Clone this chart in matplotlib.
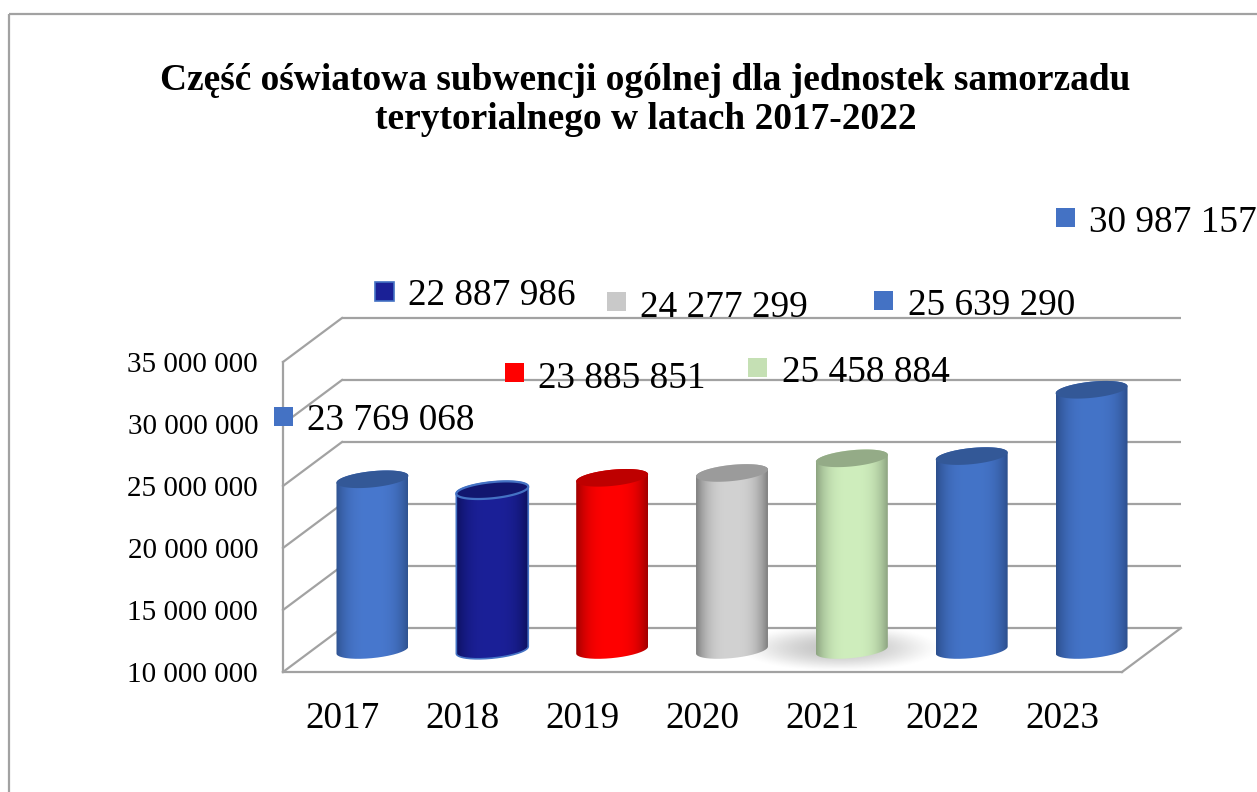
import numpy as np
import matplotlib
matplotlib.use('Agg')
import matplotlib.pyplot as plt
from matplotlib.colors import to_rgb
from matplotlib.patches import PathPatch, Rectangle
from matplotlib.path import Path
from matplotlib.transforms import Affine2D, IdentityTransform

plt.rcParams['font.family'] = ['Liberation Serif', 'DejaVu Serif']

title_lines = ['Część oświatowa subwencji ogólnej dla jednostek samorzadu',
               'terytorialnego w latach 2017-2022']
years = ['2017', '2018', '2019', '2020', '2021', '2022', '2023']
values = [23769068, 22887986, 23885851, 24277299, 25458884, 25639290, 30987157]
y_ticks = [10000000, 15000000, 20000000, 25000000, 30000000, 35000000]

# center / edge / top colours of the cylinders
center_cols = ['#4878CE', '#1B2098', '#FF0000', '#D2D2D2', '#CFEEBD', '#4474C8', '#4474C8']
edge_cols = ['#2F5290', '#0D1160', '#A00000', '#7E7E7E', '#8CA380', '#2C4E8C', '#2C4E8C']
top_cols = ['#335897', '#11166F', '#BE0000', '#9B9B9B', '#94AB87', '#335897', '#335897']
key_cols = ['#4472C4', '#1A2096', '#FF0000', '#C9C9C9', '#C5E0B4', '#4472C4', '#4472C4']

# manually dragged data labels, pixels: key x, key y, text x, baseline y
label_pos = [(283, 416, 307, 430), (384, 291, 408, 305), (514, 372, 538, 388),
             (616, 301, 640, 317), (757, 367, 782, 382), (883, 300, 908, 315),
             (1065, 217, 1089, 232)]

W, H = 1257, 792
GRID = '#A2A2A2'
DEPTH = (59, 44)
PX_PER_UNIT = 310 / 25000000

fig = plt.figure(figsize=(W / 100, H / 100), dpi=100)
page = Affine2D().scale(1, -1).translate(0, H)

# front plane of the 3d box
ax = fig.add_axes([283 / W, (H - 672) / H, 839 / W, 310 / H])
ax.patch.set_visible(False)
ax.set_xlim(-0.5, 6.5)
ax.set_ylim(10000000, 35000000)
mid = ax.transData + Affine2D().translate(DEPTH[0] / 2, DEPTH[1] / 2)
back = ax.transData + Affine2D().translate(*DEPTH)

fig.add_artist(Rectangle((9, 14), W, H, transform=page, fill=False, ec=GRID, lw=1.6))

for s in ['top', 'right']:
    ax.spines[s].set_visible(False)
for s in ['left', 'bottom']:
    ax.spines[s].set_color(GRID)
    ax.spines[s].set_linewidth(1.6)

ax.set_xticks(range(len(years)), years, fontsize=26.7)
ax.set_yticks(y_ticks, [f'{v:,}'.replace(',', ' ') for v in y_ticks], fontsize=21)
ax.tick_params(axis='x', length=0, pad=21.5)
ax.tick_params(axis='y', length=0, pad=18)

# back wall, side wall and floor
ax.hlines(y_ticks, -0.5, 6.5, transform=back, color=GRID, lw=1.6, clip_on=False, zorder=1)
for v in y_ticks:
    p = ax.transData.transform((-0.5, v))
    ax.plot([p[0], p[0] + DEPTH[0]], [p[1], p[1] + DEPTH[1]], transform=IdentityTransform(),
            color=GRID, lw=1.6, clip_on=False, zorder=1)
p = ax.transData.transform((6.5, y_ticks[0]))
ax.plot([p[0], p[0] + DEPTH[0]], [p[1], p[1] + DEPTH[1]], transform=IdentityTransform(),
        color=GRID, lw=1.6, clip_on=False, zorder=1)

# soft shadow on the floor below the 2021 cylinder
yy, xx = np.mgrid[-1:1:80j, -1:1:240j]
shadow = np.zeros((80, 240, 4))
shadow[..., :3] = 0.62
shadow[..., 3] = np.clip(1 - (xx ** 2 + yy ** 2), 0, 1) ** 1.5 * 0.6
im = ax.imshow(shadow, extent=(3.15, 4.85, 10000000 - 24 / PX_PER_UNIT, 10000000 + 24 / PX_PER_UNIT),
               aspect='auto', transform=ax.transData + Affine2D().translate(DEPTH[0] / 2 - 12, DEPTH[1] / 2 + 2),
               origin='lower', zorder=1.5, interpolation='bilinear')
im.set_clip_box(fig.bbox)

# cylinders
A = 0.3
B = 8.1 / PX_PER_UNIT
S = 3.5 / PX_PER_UNIT
for i, v in enumerate(values):
    base = y_ticks[0]
    t_up = np.linspace(0, np.pi, 80)
    t_low = np.linspace(np.pi, 2 * np.pi, 80)
    body = np.vstack([
        np.column_stack([i + A * np.cos(t_up), v + B * np.sin(t_up) + S * np.cos(t_up)]),
        np.column_stack([i + A * np.cos(t_low), base + B * np.sin(t_low) + S * np.cos(t_low)]),
        [[i + A, v + S]],
    ])
    t_all = np.linspace(0, 2 * np.pi, 160)
    top = np.column_stack([i + A * np.cos(t_all), v + B * np.sin(t_all) + S * np.cos(t_all)])

    shade = 1 - np.abs(np.linspace(-1, 1, 200)) ** 3
    c0, c1 = np.array(to_rgb(edge_cols[i])), np.array(to_rgb(center_cols[i]))
    grad = (c0 + (c1 - c0) * shade[:, None])[None, :, :].repeat(2, axis=0)
    clip = PathPatch(Path(body), transform=mid)
    im = ax.imshow(grad, extent=(i - A, i + A, base - 2 * B, v + 2 * B), aspect='auto',
                   transform=mid, origin='lower', zorder=3, interpolation='bilinear')
    im.set_clip_path(clip)
    im.set_clip_box(fig.bbox)

    navy = i == 1
    ax.add_patch(PathPatch(Path(body), transform=mid, fill=False, clip_on=False, zorder=3.1,
                           ec='#4472C4' if navy else 'none', lw=1.2))
    ax.add_patch(PathPatch(Path(top), transform=mid, fc=top_cols[i], clip_on=False, zorder=3.2,
                           ec='#4472C4' if navy else 'none', lw=1.6))

ax.set_xlim(-0.5, 6.5)
ax.set_ylim(10000000, 35000000)

# data labels with legend keys
for v, col, (kx, ky, tx, ty) in zip(values, key_cols, label_pos):
    fig.add_artist(Rectangle((kx - 9.5, ky - 9.5), 19, 19, transform=page, fc=col, zorder=5,
                             ec='#4472C4' if col == '#1A2096' else 'none', lw=1.2))
    fig.text(tx, ty, f'{v:,}'.replace(',', ' '), transform=page, fontsize=26.8,
             ha='left', va='baseline', zorder=6)

fig.text(645, 90, title_lines[0], transform=page, fontsize=26.9, fontweight='bold', ha='center', va='baseline')
fig.text(646, 129, title_lines[1], transform=page, fontsize=26.9, fontweight='bold', ha='center', va='baseline')

fig.savefig('out.png', dpi=100)
